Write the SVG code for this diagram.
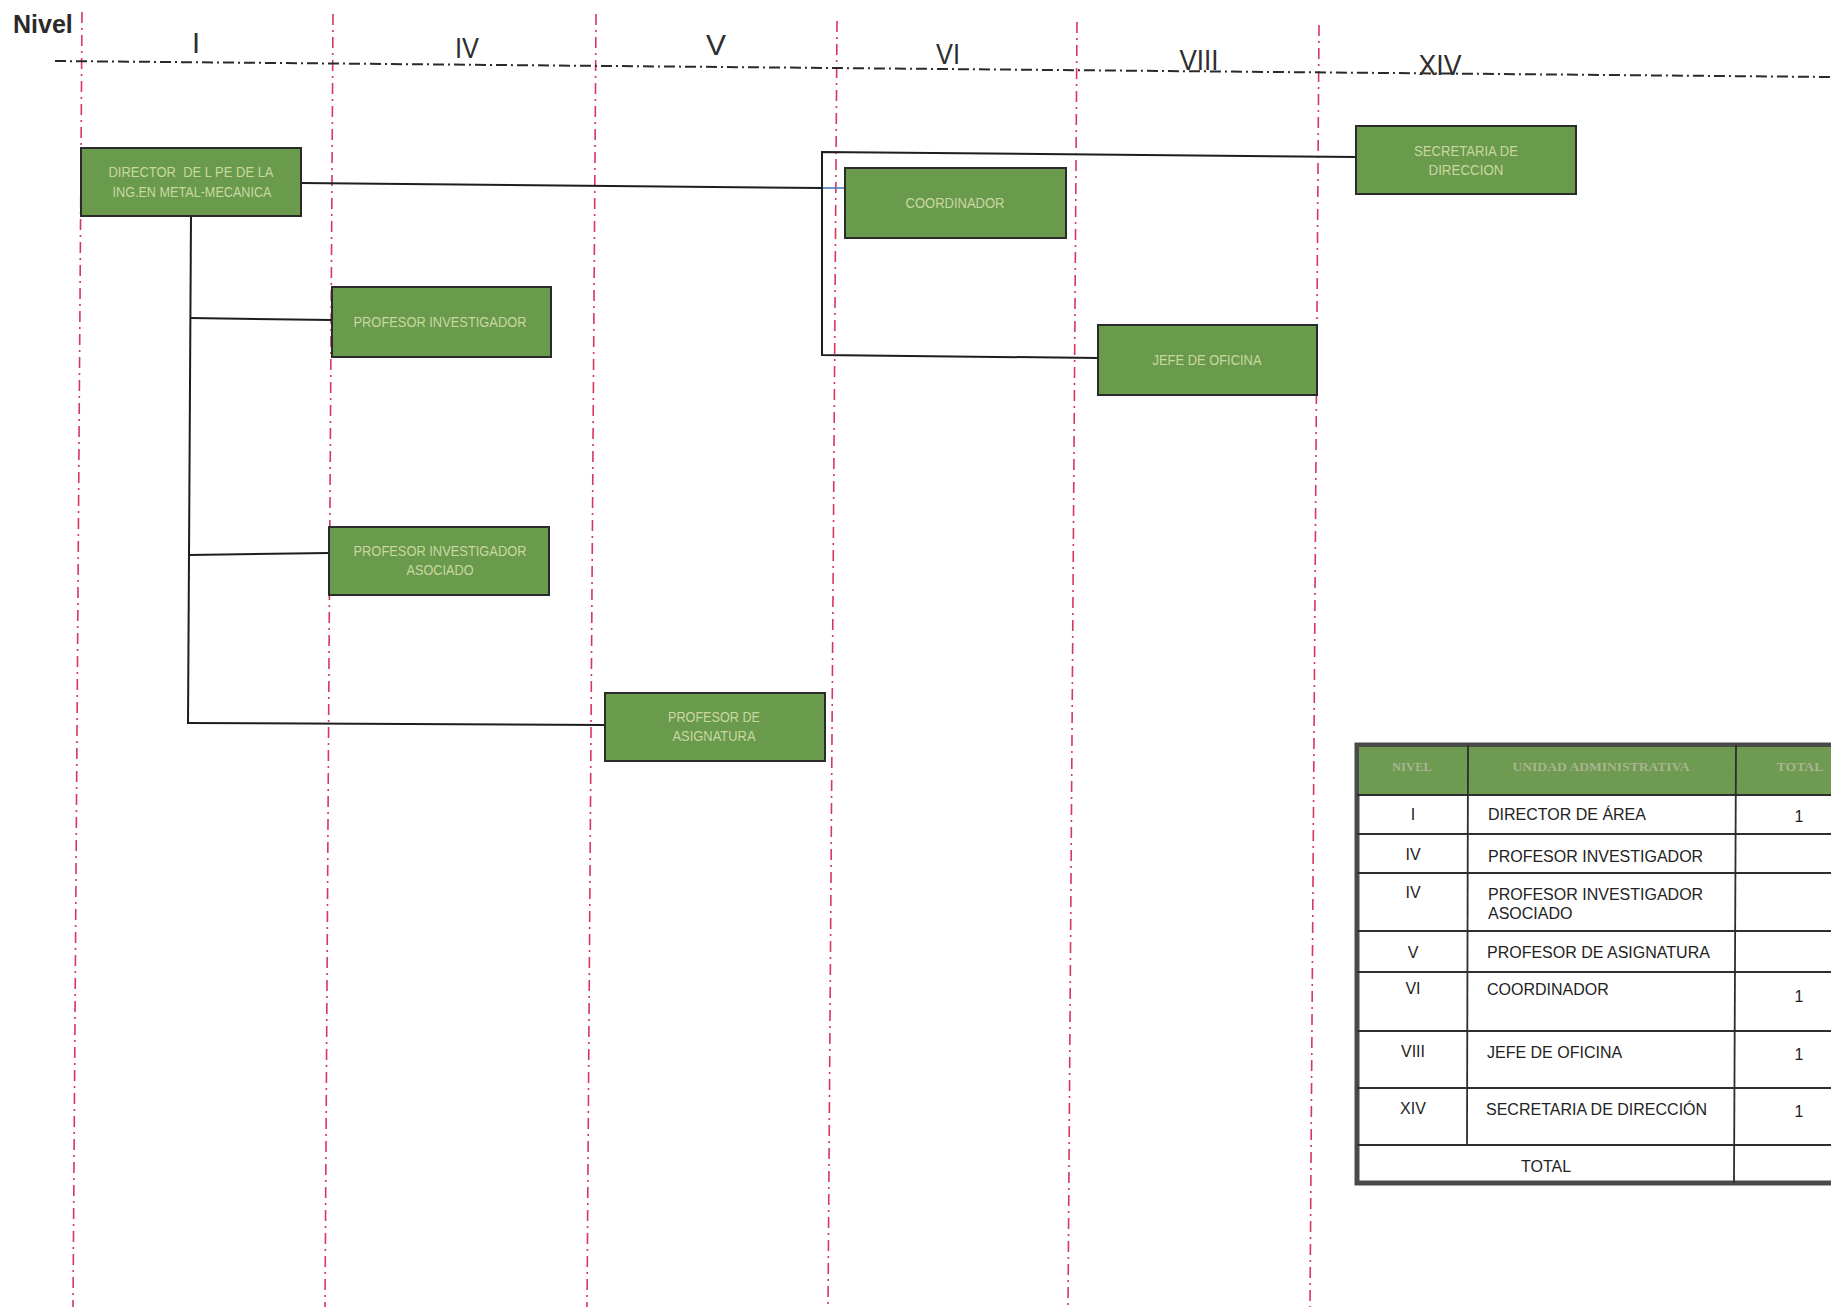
<svg xmlns="http://www.w3.org/2000/svg" width="1831" height="1307" viewBox="0 0 1831 1307">
  <style>
    .bg { fill: #ffffff; }
    .guide { stroke: #d6375c; stroke-width: 1.6; stroke-dasharray: 11 5 2 5; fill: none; }
    .axis { stroke: #2a2a2a; stroke-width: 2; stroke-dasharray: 11 4 2 4; fill: none; }
    .lvl { font-family: "Liberation Sans", Arial, sans-serif; font-size: 29px; fill: #2e2e2e; text-anchor: middle; }
    .title { font-family: "Liberation Sans", Arial, sans-serif; font-size: 25px; font-weight: bold; fill: #2a2a2a; }
    .node rect { fill: #6a9a4c; stroke: #2b2b2b; stroke-width: 2; }
    .node text { font-family: "Liberation Sans", Arial, sans-serif; font-size: 14px; fill: #c9d8a2; text-anchor: middle; }
    .wire { stroke: #1e1e1e; stroke-width: 2; fill: none; }
    .tick { stroke: #4a78c4; stroke-width: 1.6; fill: none; }
    .frame { fill: #ffffff; stroke: #4a4a4a; stroke-width: 5; }
    .head { fill: #6e9a51; }
    .grid { stroke: #2e2e2e; stroke-width: 1.8; fill: none; }
    .th { font-family: "Liberation Serif", "Times New Roman", serif; font-size: 12px; font-weight: bold; fill: #a8b490; text-anchor: middle; }
    .td { font-family: "Liberation Sans", Arial, sans-serif; font-size: 16px; fill: #222222; }
    .tc { text-anchor: middle; }
  </style>

  <rect class="bg" x="0" y="0" width="1831" height="1307"/>

  <!-- level guide lines (vertical dash-dot) -->
  <g id="guides">
    <line class="guide" x1="82" y1="12" x2="73" y2="1307"/>
    <line class="guide" x1="333" y1="14" x2="325" y2="1307"/>
    <line class="guide" x1="596" y1="14" x2="587" y2="1307"/>
    <line class="guide" x1="837" y1="21" x2="828" y2="1307"/>
    <line class="guide" x1="1077" y1="22" x2="1068" y2="1307"/>
    <line class="guide" x1="1319" y1="25" x2="1310" y2="1307"/>
  </g>

  <!-- level axis -->
  <g id="axis">
    <line class="axis" x1="55" y1="61" x2="1831" y2="77"/>
    <text class="title" x="13" y="33">Nivel</text>
    <text class="lvl" x="196" y="53">I</text>
    <text class="lvl" x="467" y="58" textLength="24" lengthAdjust="spacingAndGlyphs">IV</text>
    <text class="lvl" x="716" y="55" textLength="20" lengthAdjust="spacingAndGlyphs">V</text>
    <text class="lvl" x="948" y="64" textLength="24" lengthAdjust="spacingAndGlyphs">VI</text>
    <text class="lvl" x="1199" y="70" textLength="39" lengthAdjust="spacingAndGlyphs">VIII</text>
    <text class="lvl" x="1440" y="75" textLength="43" lengthAdjust="spacingAndGlyphs">XIV</text>
  </g>

  <!-- connectors -->
  <g id="connectors">
    <line class="wire" x1="301" y1="183" x2="823" y2="188"/>
    <line class="tick" x1="823" y1="188" x2="845" y2="188"/>
    <polyline class="wire" points="1356,157 822,152 822,355 1098,358"/>
    <line class="wire" x1="191" y1="216" x2="188" y2="724"/>
    <line class="wire" x1="190" y1="318" x2="332" y2="320"/>
    <line class="wire" x1="189" y1="555" x2="329" y2="553"/>
    <line class="wire" x1="188" y1="723" x2="605" y2="725"/>
  </g>

  <!-- nodes -->
  <g id="director" class="node">
    <rect x="81" y="148" width="220" height="68"/>
    <text x="191" y="177" textLength="165" lengthAdjust="spacingAndGlyphs">DIRECTOR&#160; DE L PE DE LA</text>
    <text x="192" y="197" textLength="159" lengthAdjust="spacingAndGlyphs">ING.EN METAL-MECANICA</text>
  </g>

  <g id="secretaria" class="node">
    <rect x="1356" y="126" width="220" height="68"/>
    <text x="1466" y="156" textLength="104" lengthAdjust="spacingAndGlyphs">SECRETARIA DE</text>
    <text x="1466" y="175" textLength="75" lengthAdjust="spacingAndGlyphs">DIRECCION</text>
  </g>

  <g id="coordinador" class="node">
    <rect x="845" y="168" width="221" height="70"/>
    <text x="955" y="208" textLength="99" lengthAdjust="spacingAndGlyphs">COORDINADOR</text>
  </g>

  <g id="jefe-oficina" class="node">
    <rect x="1098" y="325" width="219" height="70"/>
    <text x="1207" y="365" textLength="109" lengthAdjust="spacingAndGlyphs">JEFE DE OFICINA</text>
  </g>

  <g id="profesor-investigador" class="node">
    <rect x="332" y="287" width="219" height="70"/>
    <text x="440" y="327" textLength="173" lengthAdjust="spacingAndGlyphs">PROFESOR INVESTIGADOR</text>
  </g>

  <g id="profesor-asociado" class="node">
    <rect x="329" y="527" width="220" height="68"/>
    <text x="440" y="556" textLength="173" lengthAdjust="spacingAndGlyphs">PROFESOR INVESTIGADOR</text>
    <text x="440" y="575" textLength="67" lengthAdjust="spacingAndGlyphs">ASOCIADO</text>
  </g>

  <g id="profesor-asignatura" class="node">
    <rect x="605" y="693" width="220" height="68"/>
    <text x="714" y="722" textLength="92" lengthAdjust="spacingAndGlyphs">PROFESOR DE</text>
    <text x="714" y="741" textLength="83" lengthAdjust="spacingAndGlyphs">ASIGNATURA</text>
  </g>

  <!-- summary table -->
  <g id="tabla">
    <rect class="frame" x="1357" y="745" width="510" height="438"/>
    <rect class="head" x="1359" y="747" width="506" height="48"/>
    <g class="grid">
      <line x1="1357" y1="795" x2="1867" y2="795"/>
      <line x1="1357" y1="834" x2="1867" y2="834"/>
      <line x1="1357" y1="873" x2="1867" y2="873"/>
      <line x1="1357" y1="931" x2="1867" y2="931"/>
      <line x1="1357" y1="972" x2="1867" y2="972"/>
      <line x1="1357" y1="1031" x2="1867" y2="1031"/>
      <line x1="1357" y1="1088" x2="1867" y2="1088"/>
      <line x1="1357" y1="1145" x2="1867" y2="1145"/>
      <line x1="1468" y1="745" x2="1467" y2="1145"/>
      <line x1="1736" y1="745" x2="1734" y2="1183"/>
    </g>
    <text class="th" x="1412" y="771" textLength="40" lengthAdjust="spacingAndGlyphs">NIVEL</text>
    <text class="th" x="1601" y="771" textLength="177" lengthAdjust="spacingAndGlyphs">UNIDAD ADMINISTRATIVA</text>
    <text class="th" x="1800" y="771" textLength="47" lengthAdjust="spacingAndGlyphs">TOTAL</text>

    <text class="td tc" x="1413" y="820">I</text>
    <text class="td" x="1488" y="820">DIRECTOR DE ÁREA</text>
    <text class="td tc" x="1799" y="822">1</text>

    <text class="td tc" x="1413" y="860">IV</text>
    <text class="td" x="1488" y="862">PROFESOR INVESTIGADOR</text>

    <text class="td tc" x="1413" y="898">IV</text>
    <text class="td" x="1488" y="900">PROFESOR INVESTIGADOR</text>
    <text class="td" x="1488" y="919">ASOCIADO</text>

    <text class="td tc" x="1413" y="958">V</text>
    <text class="td" x="1487" y="958">PROFESOR DE ASIGNATURA</text>

    <text class="td tc" x="1413" y="994">VI</text>
    <text class="td" x="1487" y="995">COORDINADOR</text>
    <text class="td tc" x="1799" y="1002">1</text>

    <text class="td tc" x="1413" y="1057">VIII</text>
    <text class="td" x="1487" y="1058">JEFE DE OFICINA</text>
    <text class="td tc" x="1799" y="1060">1</text>

    <text class="td tc" x="1413" y="1114">XIV</text>
    <text class="td" x="1486" y="1115">SECRETARIA DE DIRECCIÓN</text>
    <text class="td tc" x="1799" y="1117">1</text>

    <text class="td tc" x="1546" y="1172">TOTAL</text>
  </g>
</svg>
